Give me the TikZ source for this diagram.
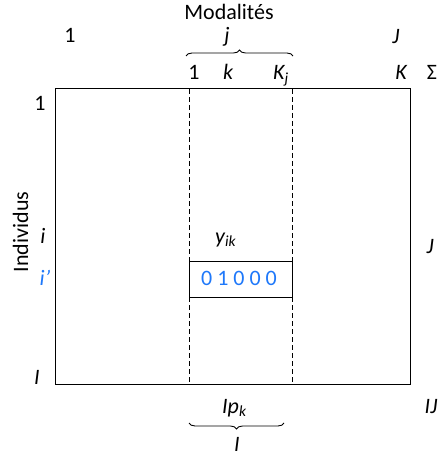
\documentclass[tikz,border=0pt]{standalone}
\usepackage{fontspec}
\setmainfont{Carlito}
\usetikzlibrary{decorations.pathreplacing}
\definecolor{myblue}{RGB}{30,120,250}
\begin{document}
\begin{tikzpicture}[x=1pt,y=-1pt,
  lbl/.style={inner sep=0pt,anchor=base,font=\fontsize{22}{24}\selectfont},
  ilbl/.style={lbl,font=\fontsize{22}{24}\selectfont\itshape},
  dline/.style={dash pattern=on 5pt off 3pt,line width=0.9pt},
  frame/.style={draw,line width=1pt},
  brc/.style={decorate,decoration={brace,amplitude=6pt},line width=0.9pt}]
\useasboundingbox (0,0) rectangle (442,457);
% main frame
\draw[frame] (55,89) rectangle (410,384);
\coordinate (d1t) at (189,89); \coordinate (d1b) at (189,384);
\coordinate (d2t) at (292,89); \coordinate (d2b) at (292,384);
\draw[dline] (d1t) -- (d1b);
\draw[dline] (d2t) -- (d2b);
% small box
\node[frame,minimum width=103pt,minimum height=36pt,inner sep=0pt,fill=white] (box) at (241,279) {};
\node[lbl,text=myblue] (val) at (239,285) {0\hspace{5pt}1\hspace{5pt}0\hspace{5pt}0\hspace{5pt}0};
\node[ilbl,anchor=base west] (yik) at (215,243) {y\textsubscript{\itshape ik}};
% top labels
\node[lbl] (mod) at (229,20) {Modalités};
\node[lbl] (one1) at (70,43) {1};
\node[ilbl] (j) at (227,43) {j};
\node[ilbl] (J1) at (396,44) {J};
\coordinate (bt1) at (186,56); \coordinate (bt2) at (293,56);
\draw[brc] (bt1) -- (bt2);
\node[lbl] (one2) at (194,80) {1};
\node[ilbl] (k) at (228,80) {k};
\node[ilbl,anchor=base west] (Kj) at (273,80) {K\textsubscript{\itshape j}};
\node[ilbl] (K) at (401,80) {K};
\node[lbl] (sig) at (432,80) {Σ};
% left labels
\node[lbl] (one3) at (40,111) {1};
\node[ilbl] (i) at (43,243) {i};
\node[ilbl,text=myblue] (ip) at (45,285) {i’};
\node[ilbl] (I1) at (37,384) {I};
\node[lbl,rotate=90] (ind) at (28,232) {Individus};
% right labels
\node[ilbl] (J2) at (430,253) {J};
\node[ilbl] (IJ) at (431,413) {IJ};
% bottom labels
\node[ilbl,anchor=base west] (Ipk) at (222,413) {Ip\textsubscript{\itshape k}};
\coordinate (bb1) at (189,423); \coordinate (bb2) at (284,423);
\draw[brc] (bb2) -- (bb1);
\node[ilbl] (I2) at (237,451) {I};
\end{tikzpicture}
\end{document}
